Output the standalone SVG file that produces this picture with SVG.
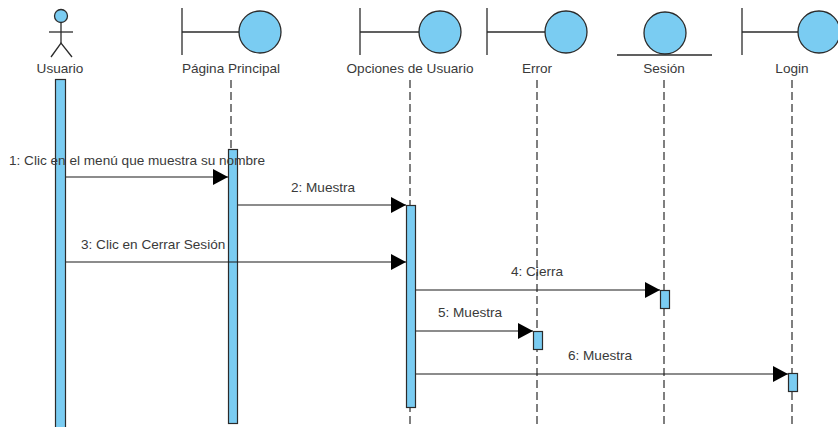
<svg xmlns="http://www.w3.org/2000/svg" width="838" height="427" viewBox="0 0 838 427">
<defs>
<style>
.ln{stroke:#2b2b2b;stroke-width:1.3;fill:none}
.cir{fill:#7accf2;stroke:#2b2b2b;stroke-width:1.3}
.act{fill:#7accf2;stroke:#2b2b2b;stroke-width:1.2}
.life{stroke:#2b2b2b;stroke-width:1.2;stroke-dasharray:8 4;fill:none}
.msg{stroke:#1a1a1a;stroke-width:1.2;fill:none;marker-end:url(#ah)}
text{font-family:"Liberation Sans",Arial,sans-serif;font-size:13.6px;fill:#3a3a3a}
.c{text-anchor:middle}
</style>
<marker id="ah" markerWidth="16" markerHeight="16" refX="15" refY="8" orient="auto" markerUnits="userSpaceOnUse">
<path d="M0,0 L15,8 L0,16 Z" fill="#000"/>
</marker>
</defs>
<g id="lifelines">
<line class="life" x1="231" y1="80" x2="231" y2="427"/>
<line class="life" x1="410" y1="80" x2="410" y2="427"/>
<line class="life" x1="537" y1="80" x2="537" y2="427"/>
<line class="life" x1="664" y1="80" x2="664" y2="427"/>
<line class="life" x1="792" y1="80" x2="792" y2="427"/>
</g>
<g id="usuario">
<circle class="cir" cx="61" cy="16" r="6.5"/>
<line class="ln" x1="61" y1="22.5" x2="61" y2="43"/>
<line class="ln" x1="49" y1="32" x2="73" y2="32"/>
<path class="ln" d="M51,57 L61,43 L72,57"/>
<text class="c" x="60" y="73">Usuario</text>
<rect class="act" x="55.5" y="79.5" width="10" height="350"/>
</g>
<g id="pagina-principal">
<line class="ln" x1="182" y1="8" x2="182" y2="55"/>
<line class="ln" x1="182" y1="32" x2="239" y2="32"/>
<circle class="cir" cx="260" cy="32" r="21"/>
<text class="c" x="231" y="73">Página Principal</text>
<rect class="act" x="228.5" y="149.5" width="9" height="274"/>
</g>
<g id="opciones-de-usuario">
<line class="ln" x1="360" y1="8" x2="360" y2="55"/>
<line class="ln" x1="360" y1="32" x2="419" y2="32"/>
<circle class="cir" cx="440" cy="32" r="21"/>
<text class="c" x="410" y="73">Opciones de Usuario</text>
<rect class="act" x="406.5" y="205.5" width="9" height="202"/>
</g>
<g id="error">
<line class="ln" x1="487" y1="8" x2="487" y2="55"/>
<line class="ln" x1="487" y1="32" x2="545" y2="32"/>
<circle class="cir" cx="566" cy="32" r="21"/>
<text class="c" x="537" y="73">Error</text>
<rect class="act" x="533.5" y="331.5" width="9" height="18"/>
</g>
<g id="sesion">
<circle class="cir" cx="665" cy="33" r="21"/>
<line class="ln" x1="617" y1="55" x2="712" y2="55"/>
<text class="c" x="664" y="73">Sesión</text>
<rect class="act" x="660.5" y="290.5" width="9" height="18"/>
</g>
<g id="login">
<line class="ln" x1="742" y1="8" x2="742" y2="55"/>
<line class="ln" x1="742" y1="32" x2="798" y2="32"/>
<circle class="cir" cx="819" cy="32" r="21"/>
<text class="c" x="792" y="73">Login</text>
<rect class="act" x="788.5" y="373.5" width="9" height="18"/>
</g>
<g id="connectors">
<line class="msg" x1="66" y1="177" x2="228" y2="177"/>
<text x="9" y="165">1: Clic en el menú que muestra su nombre</text>
<line class="msg" x1="238" y1="205" x2="406" y2="205"/>
<text class="c" x="323" y="192">2: Muestra</text>
<line class="msg" x1="66" y1="262" x2="406" y2="262"/>
<text x="81" y="249">3: Clic en Cerrar Sesión</text>
<line class="msg" x1="416" y1="290" x2="660" y2="290"/>
<text class="c" x="537" y="276">4: Cierra</text>
<line class="msg" x1="416" y1="331" x2="533" y2="331"/>
<text class="c" x="470" y="317">5: Muestra</text>
<line class="msg" x1="416" y1="374" x2="788" y2="374"/>
<text class="c" x="600" y="360">6: Muestra</text>
</g>
</svg>
